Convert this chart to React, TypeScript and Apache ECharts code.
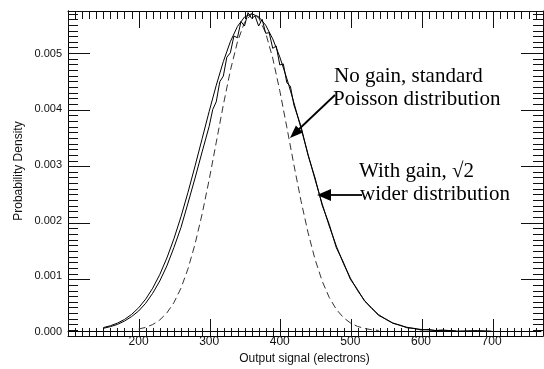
import React, { useEffect, useRef } from "react";
import * as echarts from "echarts";

// x positions (electrons) and probability densities
const smoothX = [150, 160, 170, 180, 190, 200, 210, 220, 230, 240, 250, 260, 270, 280, 290, 300, 310, 320, 330, 340, 350, 360, 370, 380, 390, 400, 410, 420, 430, 440, 450, 460, 470, 480, 490, 500, 510, 520, 530, 540, 550, 560, 570, 580, 590, 600, 620, 650];
const smoothY = [0.000063, 0.000096, 0.000143, 0.000209, 0.000299, 0.000418, 0.000574, 0.000771, 0.001016, 0.001312, 0.001658, 0.002054, 0.002494, 0.002967, 0.003457, 0.003948, 0.004416, 0.004841, 0.0052, 0.005472, 0.005642, 0.0057, 0.005648, 0.005495, 0.00525, 0.004925, 0.004537, 0.004103, 0.003644, 0.003177, 0.002721, 0.002287, 0.001888, 0.001531, 0.001218, 0.000952, 0.000731, 0.000551, 0.000407, 0.000296, 0.000211, 0.000148, 0.000102, 0.000069, 0.000045, 0.00003, 0.000012, 0.000003];

const measuredX = [150, 160, 170, 180, 190, 200, 210, 220, 230, 240, 250, 260, 270, 280, 290, 300, 305, 310, 315, 320, 325, 330, 335, 340, 345, 350, 355, 360, 365, 370, 375, 380, 385, 390, 395, 400, 405, 410, 415, 420, 430, 440, 450, 460, 470, 480, 490, 500, 510, 520, 530, 540, 550, 560, 570, 580, 590, 600, 610, 620, 630, 650, 680, 700];
const measuredY = [0.00005, 0.00008, 0.00012, 0.00018, 0.00026, 0.00036, 0.0005, 0.00068, 0.0009, 0.00117, 0.0015, 0.00186, 0.0023, 0.00275, 0.00322, 0.00368, 0.00398, 0.00412, 0.00448, 0.00458, 0.00492, 0.005, 0.0053, 0.00527, 0.00556, 0.00548, 0.00572, 0.00562, 0.00566, 0.00548, 0.0056, 0.00535, 0.00536, 0.00508, 0.00512, 0.00478, 0.0048, 0.00446, 0.0044, 0.00406, 0.00368, 0.00316, 0.00275, 0.00226, 0.00192, 0.0015, 0.00124, 0.00093, 0.00075, 0.00054, 0.00042, 0.00028, 0.00022, 0.00014, 0.00011, 0.00006, 0.00005, 0.00002, 0.00003, 0.00001, 0.00002, 0.0, 0.00001, 0.0];

const poissonX = [200, 210, 220, 230, 240, 250, 260, 270, 280, 290, 300, 310, 320, 330, 340, 350, 360, 370, 380, 390, 400, 410, 420, 430, 440, 450, 460, 470, 480, 490, 500, 510, 520, 530, 540];
const poissonY = [0.000037, 0.000067, 0.000118, 0.0002, 0.000326, 0.000511, 0.000771, 0.00112, 0.001565, 0.002104, 0.002722, 0.00339, 0.004061, 0.004681, 0.005194, 0.005544, 0.005696, 0.00563, 0.005356, 0.004903, 0.004318, 0.003661, 0.002986, 0.002343, 0.00177, 0.001286, 0.0009, 0.000605, 0.000392, 0.000244, 0.000147, 0.000085, 0.000047, 0.000025, 0.000012];

const xTickLabels = ["200", "300", "400", "500", "600", "700"];
const yTickLabels = ["0.000", "0.001", "0.002", "0.003", "0.004", "0.005"];

const zip = (xs: number[], ys: number[]) => xs.map((x, i) => [x, ys[i]]);

export default function App() {
  const ref = useRef<HTMLDivElement>(null);
  useEffect(() => {
    if (!ref.current) return;
    const chart = echarts.init(ref.current, null, { renderer: "svg" });
    const tickColor = "#111";
    const sans = "Liberation Sans";
    const serif = "Liberation Serif";
    const gridBox = { left: 68, top: 11, width: 475, height: 325 };
    const mkX = () => ({
      type: "value",
      min: 100,
      max: 770,
      interval: 100,
      splitLine: { show: false },
      axisLine: { show: true, onZero: false, lineStyle: { color: "#000", width: 1 } },
      axisTick: { show: true, inside: true, length: 17, lineStyle: { color: tickColor, width: 1 } },
      minorTick: { show: true, splitNumber: 10, length: 8, lineStyle: { color: tickColor, width: 1 } },
    });
    const mkY = () => ({
      type: "value",
      min: 0,
      max: 0.00575,
      interval: 0.001,
      splitLine: { show: false },
      axisLine: { show: true, onZero: false, lineStyle: { color: "#000", width: 1 } },
      axisTick: { show: true, inside: true, length: 22, lineStyle: { color: tickColor, width: 1 } },
      minorTick: { show: true, splitNumber: 10, length: 10, lineStyle: { color: tickColor, width: 1 } },
    });
    const arrow1Tip = [290, 138];
    const arrow2Tip = [317, 195];
    chart.setOption({
      animation: false,
      grid: [gridBox, gridBox, gridBox],
      xAxis: [
        {
          ...mkX(),
          gridIndex: 0,
          axisTick: { show: false },
          minorTick: { show: false },
          name: "Output signal (electrons)",
          nameLocation: "middle",
          nameGap: 18,
          nameTextStyle: { fontFamily: sans, fontSize: 12, color: "#111" },
          axisLabel: {
            show: true,
            margin: 4,
            fontFamily: sans,
            fontSize: 12,
            color: "#111",
            formatter: (v: number) => {
              const s = String(Math.round(v));
              return xTickLabels.includes(s) ? s : "";
            },
          },
        },
        { ...mkX(), gridIndex: 1, position: "top", axisLabel: { show: false } },
        { ...mkX(), gridIndex: 2, position: "bottom", axisLabel: { show: false } },
      ],
      yAxis: [
        {
          ...mkY(),
          gridIndex: 0,
          axisTick: { show: false },
          minorTick: { show: false },
          name: "Probability Density",
          nameLocation: "middle",
          nameGap: 36,
          nameTextStyle: { fontFamily: sans, fontSize: 12, color: "#111" },
          axisLabel: {
            show: true,
            margin: 6,
            fontFamily: sans,
            fontSize: 11,
            color: "#111",
            formatter: (v: number) => {
              const s = v.toFixed(3);
              return yTickLabels.includes(s) ? s : "";
            },
          },
        },
        { ...mkY(), gridIndex: 1, position: "right", axisLabel: { show: false } },
        { ...mkY(), gridIndex: 2, position: "left", axisLabel: { show: false } },
      ],
      series: [
        {
          type: "line",
          name: "No gain",
          xAxisIndex: 0,
          yAxisIndex: 0,
          data: zip(poissonX, poissonY),
          showSymbol: false,
          lineStyle: { color: "#333", width: 1, type: [7, 4] },
        },
        {
          type: "line",
          name: "With gain (model)",
          xAxisIndex: 0,
          yAxisIndex: 0,
          data: zip(smoothX, smoothY),
          showSymbol: false,
          lineStyle: { color: "#000", width: 1 },
        },
        {
          type: "line",
          name: "With gain (measured)",
          xAxisIndex: 0,
          yAxisIndex: 0,
          data: zip(measuredX, measuredY),
          showSymbol: false,
          lineStyle: { color: "#000", width: 1 },
        },
      ],
      graphic: [
        { type: "text", x: 334, y: 75, style: { text: "No gain, standard", font: `21px "${serif}"`, fill: "#000", textVerticalAlign: "middle" } },
        { type: "text", x: 333, y: 98, style: { text: "Poisson distribution", font: `21px "${serif}"`, fill: "#000", textVerticalAlign: "middle" } },
        { type: "text", x: 359, y: 170, style: { text: "With gain, \u221A2", font: `21px "${serif}"`, fill: "#000", textVerticalAlign: "middle" } },
        { type: "text", x: 360, y: 193, style: { text: "wider distribution", font: `21px "${serif}"`, fill: "#000", textVerticalAlign: "middle" } },
        { type: "line", shape: { x1: 335, y1: 95, x2: 297, y2: 131 }, style: { stroke: "#000", lineWidth: 1.8 } },
        { type: "polygon", shape: { points: [arrow1Tip, [302.9, 132.6], [295.9, 125.4]] }, style: { fill: "#000" } },
        { type: "line", shape: { x1: 362, y1: 195, x2: 330, y2: 195 }, style: { stroke: "#000", lineWidth: 1.8 } },
        { type: "polygon", shape: { points: [arrow2Tip, [331, 189], [331, 201]] }, style: { fill: "#000" } },
      ],
    });
    return () => chart.dispose();
  }, []);
  return <div ref={ref} style={{ position: "fixed", left: 0, top: 0, width: 544, height: 369 }} />;
}
